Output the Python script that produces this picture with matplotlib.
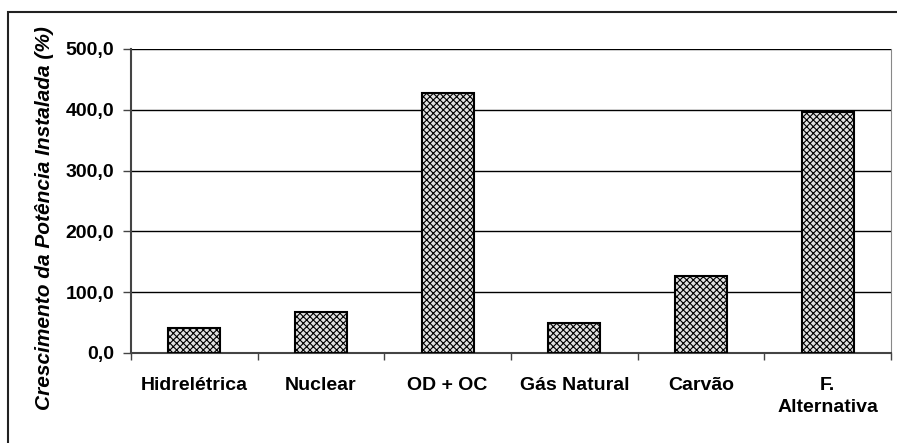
import matplotlib
matplotlib.use("Agg")
from matplotlib import pyplot as plt
from matplotlib.patches import Rectangle
import numpy as np

categories = ["Hidrelétrica", "Nuclear", "OD + OC", "Gás Natural", "Carvão", "F.\nAlternativa"]
growth = [40.5, 67.5, 427.5, 50.0, 127.0, 396.0]
yticks = [0, 100, 200, 300, 400, 500]
ytick_labels = ["0,0", "100,0", "200,0", "300,0", "400,0", "500,0"]

plt.rcParams['font.family'] = ['Liberation Sans', 'DejaVu Sans']
plt.rcParams['hatch.color'] = '#666666'
plt.rcParams['hatch.linewidth'] = 0.8

fig = plt.figure(figsize=(8.97, 4.43), dpi=100)
ax = fig.add_axes([131 / 897, 90 / 443, 760 / 897, 304 / 443])

x = np.arange(len(categories))
ax.bar(x, growth, width=0.41, facecolor='#e0e0e0', edgecolor='black',
       linewidth=1.5, hatch='xxxxx', zorder=3)

ax.set_xlim(-0.5, len(categories) - 0.5)
ax.set_ylim(0, 500)
ax.set_yticks(yticks)
ax.set_yticklabels(ytick_labels, fontsize=14, fontweight='bold')
ax.yaxis.grid(True, color='black', linewidth=1.0, zorder=0)

ax.set_xticks(x)
ax.set_xticklabels(categories, fontsize=14, fontweight='bold', linespacing=1.4)
ax.tick_params(axis='x', length=0, pad=17)
ax.tick_params(axis='y', length=6, width=1.0, color='#444444', pad=6)
# category separator ticks
ax.set_xticks(np.arange(len(categories) + 1) - 0.5, minor=True)
ax.tick_params(axis='x', which='minor', length=5, width=1.0, color='#444444', direction='out')

ax.spines['top'].set_visible(False)
ax.spines['right'].set_color('#888888')
ax.spines['left'].set_color('#444444')
ax.spines['bottom'].set_color('#444444')
ax.spines['left'].set_linewidth(1.5)
ax.spines['bottom'].set_linewidth(1.5)

ax.set_ylabel("Crescimento da Potência Instalada (%)", fontsize=15,
              fontweight='bold', fontstyle='italic')
ax.yaxis.set_label_coords(-0.101, 0.444)

# outer chart frame (cut at right and bottom edges)
fig.patches.append(Rectangle((8 / 897, -0.02), 1.0, (443 - 12) / 443 + 0.02,
                             transform=fig.transFigure, fill=False,
                             edgecolor='#222222', linewidth=1.5))

fig.savefig("out.png", dpi=100)
